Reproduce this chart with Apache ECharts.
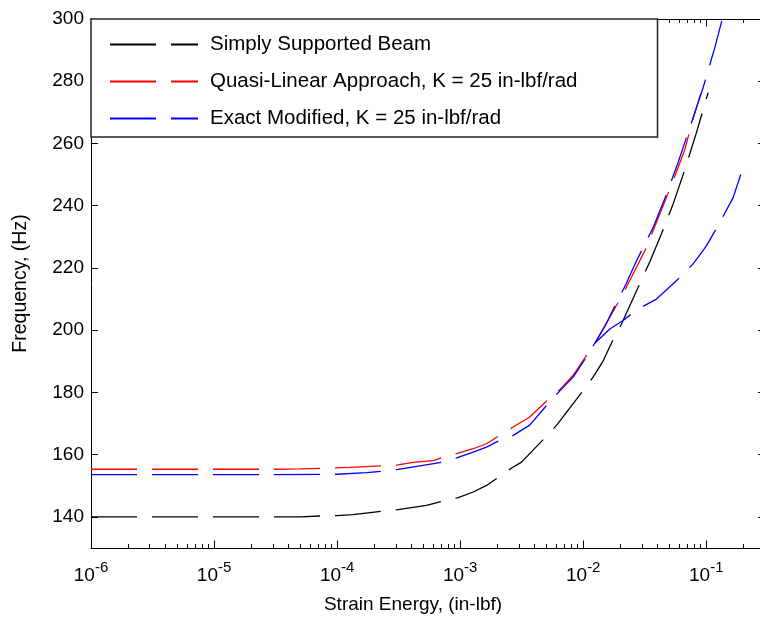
<!DOCTYPE html>
<html>
<head>
<meta charset="utf-8">
<script src="https://cdn.jsdelivr.net/npm/echarts@6/dist/echarts.min.js"></script>
<style>
html,body{margin:0;padding:0;background:#fff;overflow:hidden;}
#chart{width:760px;height:619px;}
</style>
</head>
<body>
<div id="chart"></div>
<script>
// ---- data (x given as log10 of strain energy, y in Hz) ----
const ssbLogE = [-6, -5, -4.5, -4.3, -4.126, -4.004, -3.87, -3.64, -3.504, -3.274, -3.138, -3.016, -2.894, -2.786, -2.692, -2.582, -2.501, -2.312, -2.217, -2.0, -1.92, -1.84, -1.757, -1.689, -1.62, -1.54, -1.459, -1.364, -1.27, -1.175, -1.08, -0.985];
const ssbFreq = [140, 140, 140, 140, 140.3, 140.4, 140.7, 141.8, 142.3, 143.7, 145.1, 146.2, 148, 150.1, 152.6, 155.7, 157.6, 165.4, 169.4, 180.6, 184.9, 190, 197, 202, 208, 215, 222, 231, 240.5, 251.5, 263.5, 276.3];

const qlaLogE = [-6, -5, -4.5, -4.3, -4.1, -3.896, -3.638, -3.504, -3.382, -3.219, -3.138, -3.016, -2.894, -2.786, -2.678, -2.569, -2.435, -2.285, -2.19, -2.082, -1.973, -1.892, -1.784, -1.7, -1.608, -1.486, -1.378, -1.27, -1.175, -1.107, -1.045];
const qlaFreq = [155.3, 155.3, 155.3, 155.4, 155.6, 155.9, 156.4, 156.7, 157.5, 158.1, 159.2, 160.5, 161.9, 163.5, 166.2, 168.9, 172.1, 177.7, 180.9, 185.5, 191.9, 196.7, 204.2, 210, 217, 226.6, 237.3, 248, 258, 268, 276];

const exactLogE = [-6, -5, -4.5, -4.0, -3.76, -3.626, -3.504, -3.327, -3.138, -3.016, -2.894, -2.786, -2.678, -2.569, -2.435, -2.285, -2.19, -2.082, -1.973, -1.906, -1.82, -1.729, -1.65, -1.567, -1.432, -1.323, -1.229, -1.134, -1.026, -0.931, -0.87];
const exactFreq = [153.6, 153.6, 153.6, 153.7, 154.2, 154.7, 155.3, 156.4, 157.6, 159.1, 160.8, 162.4, 164.6, 166.2, 169.5, 176.4, 180.5, 184.9, 191.4, 195.8, 201.5, 208.9, 215, 222.3, 233, 243.7, 253.9, 265.1, 277.9, 290.8, 300];

const exact2LogE = [-1.906, -1.784, -1.676, -1.567, -1.405, -1.243, -1.107, -0.999, -0.89, -0.782, -0.701];
const exact2Freq = [195.8, 200.4, 203.1, 206.5, 210, 215.9, 221.3, 227.1, 234.6, 242.6, 252.3];

const xMajorTicks = [1e-6, 1e-5, 1e-4, 1e-3, 1e-2, 1e-1];
const xMinorMult = [2, 3, 4, 5, 6, 7, 8, 9];
const yTicks = [140, 160, 180, 200, 220, 240, 260, 280, 300];
const xMin = 1e-6, xMax = 0.3, yMin = 130, yMax = 300;

const names = ['Simply Supported Beam', 'Quasi-Linear Approach, K = 25 in-lbf/rad', 'Exact Modified, K = 25 in-lbf/rad'];

// ---- build ----
const xMinorTicks = [];
xMajorTicks.forEach(m => xMinorMult.forEach(k => { const v = m * k; if (v <= xMax) xMinorTicks.push(v); }));
const pts = (lx, ly) => lx.map((v, i) => [Math.pow(10, v), ly[i]]);

const FONT = '"Liberation Sans", Arial, sans-serif';
const dash = [46, 15];

function lineSeries(name, data, color) {
  return {
    name, type: 'line', data, xAxisIndex: 0, yAxisIndex: 0,
    symbol: 'none', smooth: false, clip: true,
    lineStyle: { color, width: 1.3, type: dash },
    itemStyle: { color },
    emphasis: { disabled: true }
  };
}

function xAx(position, major, showLine, extra) {
  return Object.assign({
    type: 'log', min: xMin, max: xMax, position,
    axisLine: { show: showLine, onZero: false, lineStyle: { color: '#000', width: 1 } },
    axisTick: { show: true, inside: true, length: major ? 7.5 : 4, customValues: major ? xMajorTicks : xMinorTicks, lineStyle: { color: '#000', width: 1 } },
    axisLabel: { show: false },
    splitLine: { show: false }, minorTick: { show: false }
  }, extra || {});
}

const chart = echarts.init(document.getElementById('chart'), null, { renderer: 'canvas' });
const option = {
  animation: false,
  backgroundColor: '#fff',
  grid: { left: 91, top: 19, width: 674, height: 529, containLabel: false, outerBoundsMode: 'none' },
  legend: {
    orient: 'vertical', left: 91, top: 19,
    padding: [15, 80, 8, 18],
    itemWidth: 88, itemHeight: 20, itemGap: 16,
    backgroundColor: '#fff', borderColor: '#222', borderWidth: 1.5,
    itemStyle: { opacity: 0 },
    textStyle: { fontFamily: FONT, fontSize: 20.5, color: '#000', padding: [0, 0, 0, 7] },
    data: names
  },
  xAxis: [
    xAx('bottom', true, true, {
      axisLabel: {
        show: true, customValues: xMajorTicks, margin: 12,
        formatter: v => '{b|10}{s|' + Math.round(Math.log10(v)) + '}',
        rich: {
          b: { fontFamily: FONT, fontSize: 19, lineHeight: 32, color: '#000' },
          s: { fontFamily: FONT, fontSize: 15, lineHeight: 11, verticalAlign: 'top', color: '#000' }
        }
      },
      name: 'Strain Energy, (in-lbf)', nameLocation: 'middle', nameGap: 47,
      nameTextStyle: { fontFamily: FONT, fontSize: 19, color: '#000', padding: [0, 30, 0, 0] }
    }),
    xAx('bottom', false, false),
    xAx('top', true, true),
    xAx('top', false, false)
  ],
  yAxis: [
    {
      type: 'value', min: yMin, max: yMax, position: 'left',
      axisLine: { show: true, onZero: false, lineStyle: { color: '#000', width: 1 } },
      axisTick: { show: true, inside: true, length: 7, customValues: yTicks, lineStyle: { color: '#000' } },
      axisLabel: { show: true, customValues: yTicks, margin: 7, fontFamily: FONT, fontSize: 19, color: '#000' },
      splitLine: { show: false },
      name: 'Frequency, (Hz)', nameLocation: 'middle', nameGap: 60,
      nameTextStyle: { fontFamily: FONT, fontSize: 19.5, color: '#000' }
    },
    {
      type: 'value', min: yMin, max: yMax, position: 'right',
      axisLine: { show: false },
      axisTick: { show: true, inside: true, length: 7, customValues: yTicks, lineStyle: { color: '#000' } },
      axisLabel: { show: false }, splitLine: { show: false }
    }
  ],
  series: [
    lineSeries(names[0], pts(ssbLogE, ssbFreq), '#000000'),
    lineSeries(names[1], pts(qlaLogE, qlaFreq), '#ff0000'),
    lineSeries(names[2], pts(exactLogE, exactFreq), '#0000ff'),
    lineSeries(names[2], pts(exact2LogE, exact2Freq), '#0000ff')
  ]
};
chart.setOption(option);
</script>
</body>
</html>
